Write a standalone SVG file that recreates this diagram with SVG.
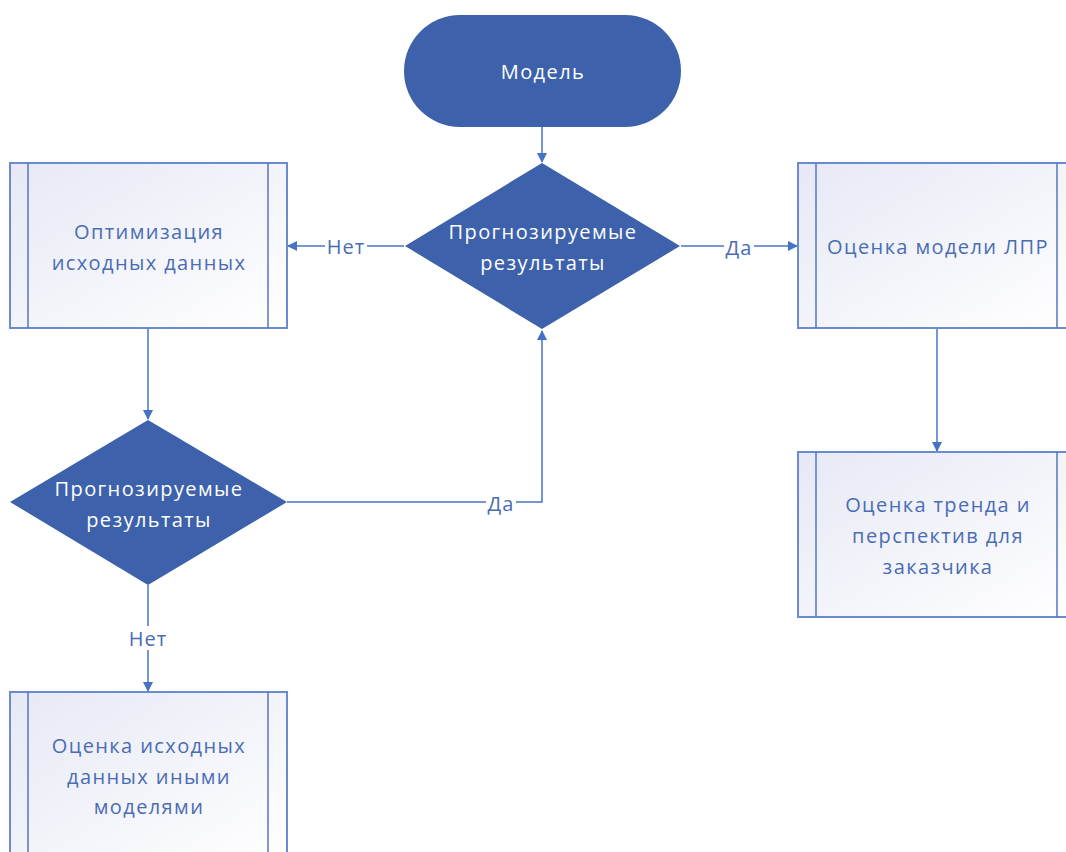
<svg xmlns="http://www.w3.org/2000/svg" width="1066" height="852" viewBox="0 0 1066 852">
<defs>
<linearGradient id="g" x1="0" y1="0" x2="1" y2="1">
<stop offset="0" stop-color="#e6e9f5"/>
<stop offset="1" stop-color="#ffffff"/>
</linearGradient>
<marker id="ah" markerWidth="10" markerHeight="10" refX="9" refY="5" orient="auto" markerUnits="userSpaceOnUse">
<path d="M0,0 L10,5 L0,10 Z" fill="#4472c4"/>
</marker>
<style>
.box{fill:url(#g);stroke:#6a8bd0;stroke-width:2}
.inner{stroke:#5676c0;stroke-width:1.5}
.dark{fill:#3d62ab}
.t{font-family:"Open Sans","Liberation Sans",sans-serif;font-size:20px;letter-spacing:1.4px;text-anchor:middle;dominant-baseline:central}
.tb{fill:#4a6cb5}
.tw{fill:#ffffff}
.c{fill:none;stroke:#4a74c4;stroke-width:1.5}
.lbl{font-family:"Open Sans","Liberation Sans",sans-serif;font-size:20px;letter-spacing:1px;text-anchor:middle;dominant-baseline:central;fill:#4a6cb5}
.lbg{fill:#ffffff}
</style>
</defs>
<rect width="1066" height="852" fill="#ffffff"/>

<g id="connectors">
<path class="c" d="M542,127 V162" marker-end="url(#ah)"/>
<path class="c" d="M404,246 H288" marker-end="url(#ah)"/>
<path class="c" d="M681,246 H797" marker-end="url(#ah)"/>
<path class="c" d="M937,328 V451" marker-end="url(#ah)"/>
<path class="c" d="M148,328 V419" marker-end="url(#ah)"/>
<path class="c" d="M287,502 H542 V331" marker-end="url(#ah)"/>
<path class="c" d="M148,585 V691" marker-end="url(#ah)"/>
<rect class="lbg" x="325" y="234" width="42" height="24"/>
<text class="lbl" x="346" y="246">Нет</text>
<rect class="lbg" x="724" y="234" width="30" height="24"/>
<text class="lbl" x="739" y="247">Да</text>
<rect class="lbg" x="486" y="490" width="30" height="24"/>
<text class="lbl" x="501" y="503">Да</text>
<rect class="lbg" x="127" y="626" width="42" height="24"/>
<text class="lbl" x="148" y="638">Нет</text>
</g>

<g id="start">
<rect class="dark" x="404" y="15" width="277" height="112" rx="56" ry="56"/>
<text class="t tw" x="543" y="71">Модель</text>
</g>

<g id="decision1">
<polygon class="dark" points="542,163 680,246 542,329 405,246"/>
<text class="t tw" x="543" y="231">Прогнозируемые</text>
<text class="t tw" x="543" y="262">результаты</text>
</g>

<g id="optimize">
<rect class="box" x="10" y="163" width="277" height="165"/>
<line class="inner" x1="28" y1="163" x2="28" y2="328"/>
<line class="inner" x1="268" y1="163" x2="268" y2="328"/>
<text class="t tb" x="149" y="231">Оптимизация</text>
<text class="t tb" x="149" y="262">исходных данных</text>
</g>

<g id="evaluate-lpr">
<rect class="box" x="798" y="163" width="277" height="165"/>
<line class="inner" x1="816" y1="163" x2="816" y2="328"/>
<line class="inner" x1="1057" y1="163" x2="1057" y2="328"/>
<text class="t tb" x="938" y="246">Оценка модели ЛПР</text>
</g>

<g id="decision2">
<polygon class="dark" points="148,420 287,502 148,585 10,502"/>
<text class="t tw" x="149" y="488">Прогнозируемые</text>
<text class="t tw" x="149" y="519">результаты</text>
</g>

<g id="trend">
<rect class="box" x="798" y="452" width="277" height="165"/>
<line class="inner" x1="816" y1="452" x2="816" y2="617"/>
<line class="inner" x1="1057" y1="452" x2="1057" y2="617"/>
<text class="t tb" x="938" y="504">Оценка тренда и</text>
<text class="t tb" x="938" y="535">перспектив для</text>
<text class="t tb" x="938" y="566">заказчика</text>
</g>

<g id="other-models">
<rect class="box" x="10" y="692" width="277" height="175"/>
<line class="inner" x1="28" y1="692" x2="28" y2="867"/>
<line class="inner" x1="268" y1="692" x2="268" y2="867"/>
<text class="t tb" x="149" y="745">Оценка исходных</text>
<text class="t tb" x="149" y="776">данных иными</text>
<text class="t tb" x="149" y="806">моделями</text>
</g>
</svg>
